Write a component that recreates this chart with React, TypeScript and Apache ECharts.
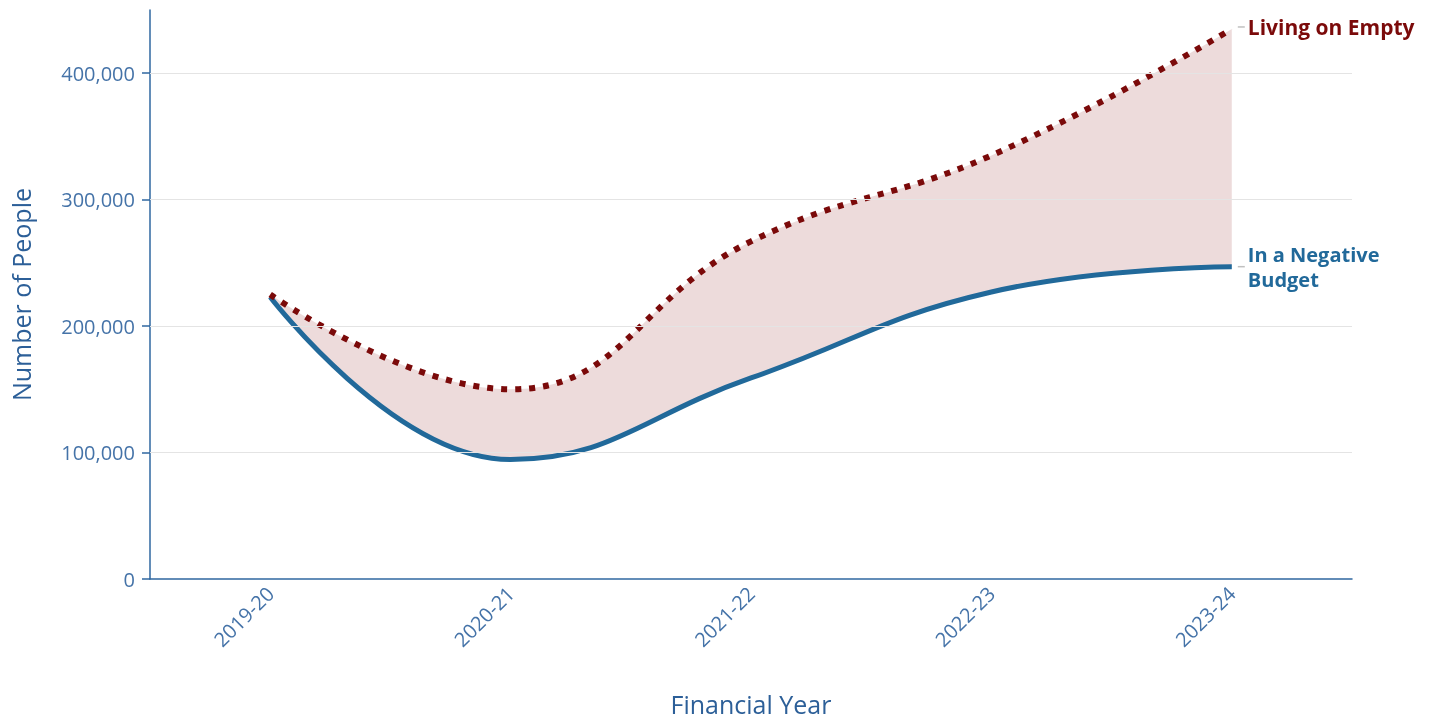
import React, { useEffect, useRef } from "react";
import * as echarts from "echarts";

const categories = ["2019-20", "2020-21", "2021-22", "2022-23", "2023-24"];
const livingOnEmpty = [225000, 150000, 267000, 335000, 435000];
const negativeBudget = [223000, 94500, 159000, 227000, 247000];
const yTicks = [0, 100000, 200000, 300000, 400000];
const gridValues = [100000, 200000, 300000, 400000];

const FONT = "'Open Sans', 'Noto Sans', sans-serif";
const RED = "#7b0a0a";
const BLUE = "#21699a";
const AXIS = "#2f67a0";
const LABEL = "#4573a8";
const SMOOTH = 0.45;

export default function App() {
  const ref = useRef<HTMLDivElement>(null);
  useEffect(() => {
    if (!ref.current) return;
    const chart = echarts.init(ref.current, undefined, { renderer: "svg" });
    const diff = livingOnEmpty.map((v, i) => v - negativeBudget[i]);
    chart.setOption({
      animation: false,
      grid: { left: 149, right: 88, top: 10, bottom: 136, containLabel: false },
      xAxis: {
        type: "category",
        data: categories,
        boundaryGap: true,
        name: "Financial Year",
        nameLocation: "middle",
        nameGap: 112,
        nameTextStyle: { fontFamily: FONT, fontSize: 25, color: "#2c5f98" },
        axisLine: { lineStyle: { color: AXIS, width: 1.5 } },
        axisTick: { alignWithLabel: true, length: 8, lineStyle: { color: AXIS, width: 1.5 } },
        axisLabel: { rotate: 45, margin: 11, fontFamily: FONT, fontSize: 20, color: LABEL },
        splitLine: { show: false },
      },
      yAxis: {
        type: "value",
        min: 0,
        max: 450000,
        interval: 100000,
        name: "Number of People",
        nameLocation: "middle",
        nameGap: 117,
        nameTextStyle: { fontFamily: FONT, fontSize: 25, color: "#2c5f98" },
        axisLine: { show: true, lineStyle: { color: AXIS, width: 1.5 } },
        axisTick: { show: true, length: 8, customValues: yTicks, lineStyle: { color: AXIS, width: 1.5 } },
        axisLabel: {
          margin: 15,
          fontFamily: FONT,
          fontSize: 20,
          color: LABEL,
          customValues: yTicks,
          formatter: (v: number) => v.toLocaleString("en-US"),
        },
        splitLine: { show: false },
      },
      series: [
        {
          type: "line",
          data: negativeBudget,
          stack: "band",
          smooth: SMOOTH,
          symbol: "none",
          lineStyle: { opacity: 0 },
          silent: true,
          z: 1,
          markLine: {
            silent: true,
            symbol: "none",
            label: { show: false },
            lineStyle: { color: "#e4e4e4", type: "solid", width: 1 },
            data: gridValues.map((v) => ({ yAxis: v })),
          },
        },
        {
          type: "line",
          data: diff,
          stack: "band",
          smooth: SMOOTH,
          symbol: "none",
          lineStyle: { opacity: 0 },
          areaStyle: { color: "rgba(128,0,0,0.14)", opacity: 1 },
          silent: true,
          z: 2,
        },
        {
          type: "line",
          name: "In a Negative Budget",
          data: negativeBudget,
          smooth: SMOOTH,
          symbol: "none",
          lineStyle: { color: BLUE, width: 5 },
          z: 3,
        },
        {
          type: "line",
          name: "Living on Empty",
          data: livingOnEmpty,
          smooth: SMOOTH,
          symbol: "none",
          lineStyle: { color: RED, width: 6, type: [6, 8] },
          z: 4,
        },
      ],
    });

    const last = categories.length - 1;
    const pE = chart.convertToPixel({ xAxisIndex: 0, yAxisIndex: 0 }, [last, livingOnEmpty[last]]) as number[];
    const pN = chart.convertToPixel({ xAxisIndex: 0, yAxisIndex: 0 }, [last, negativeBudget[last]]) as number[];
    chart.setOption({
      graphic: [
        { type: "line", shape: { x1: pE[0] + 6, y1: pE[1] - 2, x2: pE[0] + 13, y2: pE[1] - 2 }, style: { stroke: "#c0c0c0", lineWidth: 1.5 } },
        {
          type: "text",
          x: pE[0] + 16,
          y: pE[1] - 2,
          style: { text: "Living on Empty", fill: RED, font: `bold 21px ${FONT}`, verticalAlign: "middle", align: "left" },
        },
        { type: "line", shape: { x1: pN[0] + 6, y1: pN[1], x2: pN[0] + 13, y2: pN[1] }, style: { stroke: "#c0c0c0", lineWidth: 1.5 } },
        {
          type: "text",
          x: pN[0] + 16,
          y: pN[1] - 12.5,
          style: { text: "In a Negative", fill: BLUE, font: `bold 20px ${FONT}`, verticalAlign: "middle", align: "left" },
        },
        {
          type: "text",
          x: pN[0] + 16,
          y: pN[1] + 12.5,
          style: { text: "Budget", fill: BLUE, font: `bold 20px ${FONT}`, verticalAlign: "middle", align: "left" },
        },
      ],
    });

    return () => chart.dispose();
  }, []);
  return <div ref={ref} style={{ position: "fixed", left: 0, top: 0, width: 1440, height: 721 }} />;
}
